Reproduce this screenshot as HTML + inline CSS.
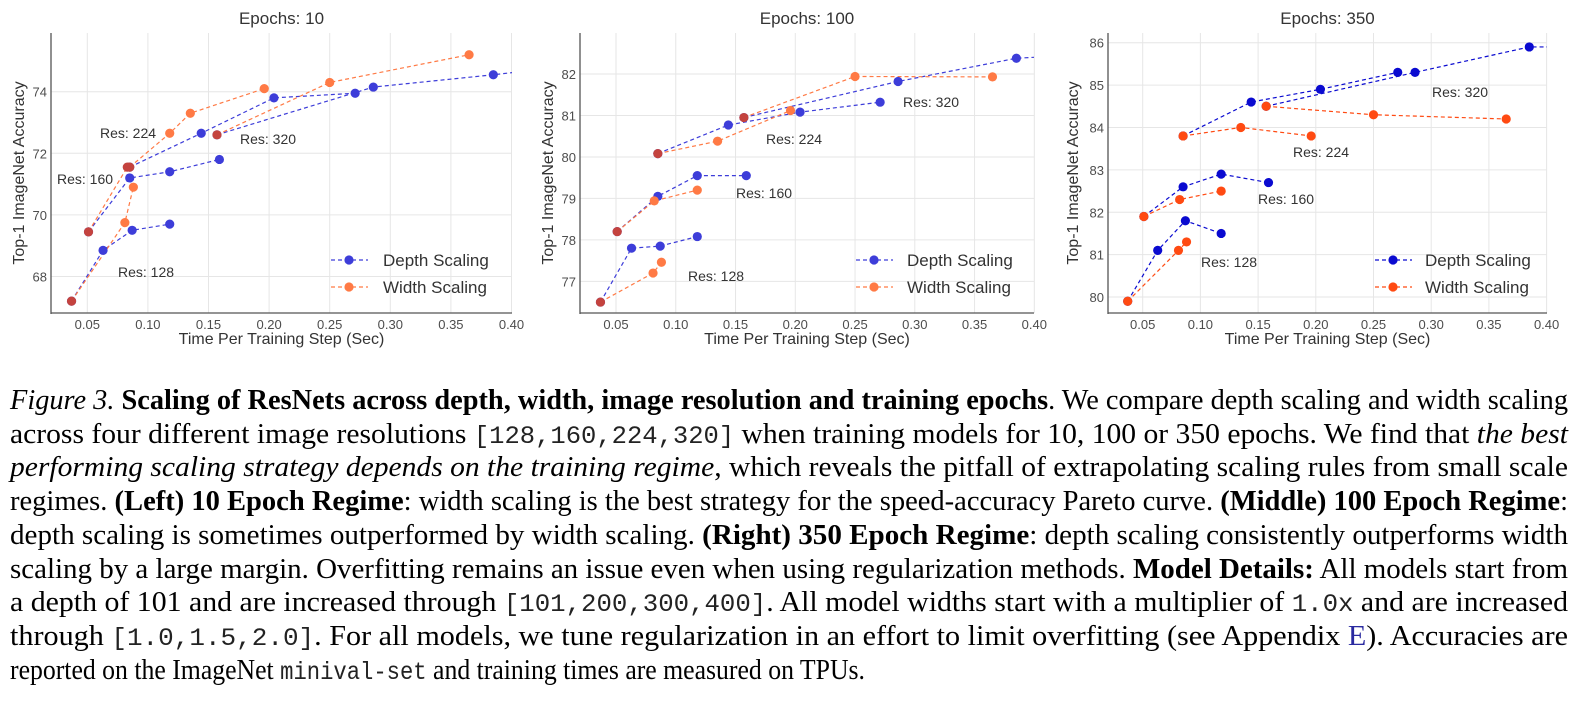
<!DOCTYPE html>
<html><head><meta charset="utf-8">
<style>
html,body{margin:0;padding:0;background:#fff;width:1588px;height:711px;overflow:hidden}
#chart{position:absolute;left:0;top:0}
.cap{position:absolute;left:10px;font-family:"Liberation Serif",serif;font-size:29px;color:#000;white-space:nowrap;transform-origin:0 0;line-height:1}
.cap b{font-weight:bold}
.mono{font-family:"Liberation Mono",monospace;font-size:25px;color:#222}
.blue{color:#2a2aa0}
</style></head><body>
<svg id="chart" width="1588" height="360"></svg>
<div id="caption">
<div class="cap" data-w="1558" style="top:386px"><i>Figure 3.</i> <b>Scaling of ResNets across depth, width, image resolution and training epochs</b>. We compare depth scaling and width scaling</div>
<div class="cap" data-w="1558" style="top:420px">across four different image resolutions <span class="mono">[128,160,224,320]</span> when training models for 10, 100 or 350 epochs. We find that <i>the best</i></div>
<div class="cap" data-w="1558" style="top:453px"><i>performing scaling strategy depends on the training regime</i>, which reveals the pitfall of extrapolating scaling rules from small scale</div>
<div class="cap" data-w="1558" style="top:487px">regimes. <b>(Left) 10 Epoch Regime</b>: width scaling is the best strategy for the speed-accuracy Pareto curve. <b>(Middle) 100 Epoch Regime</b>:</div>
<div class="cap" data-w="1558" style="top:521px">depth scaling is sometimes outperformed by width scaling. <b>(Right) 350 Epoch Regime</b>: depth scaling consistently outperforms width</div>
<div class="cap" data-w="1558" style="top:555px">scaling by a large margin. Overfitting remains an issue even when using regularization methods. <b>Model Details:</b> All models start from</div>
<div class="cap" data-w="1558" style="top:588px">a depth of 101 and are increased through <span class="mono">[101,200,300,400]</span>. All model widths start with a multiplier of <span class="mono">1.0x</span> and are increased</div>
<div class="cap" data-w="1558" style="top:622px">through <span class="mono">[1.0,1.5,2.0]</span>. For all models, we tune regularization in an effort to limit overfitting (see Appendix <span class="blue">E</span>). Accuracies are</div>
<div class="cap" data-w="855" style="top:656px">reported on the ImageNet <span class="mono">minival-set</span> and training times are measured on TPUs.</div>
</div>
<script>
// ---- data ----
const xTicks = [0.05,0.10,0.15,0.20,0.25,0.30,0.35,0.40];
const xTickLabels = ["0.05","0.10","0.15","0.20","0.25","0.30","0.35","0.40"];
const resLabels = ["Res: 128","Res: 160","Res: 224","Res: 320"];
const e10Ticks = [68,70,72,74];
const e100Ticks = [77,78,79,80,81,82];
const e350Ticks = [80,81,82,83,84,85,86];
// Epochs 10
const e10DepthX = [[0.037,0.063,0.087,0.118],[0.051,0.085,0.118,0.159],[0.085,0.144,0.204,0.271],[0.157,0.286,0.385,0.43]];
const e10DepthY = [[67.2,68.85,69.5,69.7],[69.45,71.2,71.4,71.8],[71.55,72.65,73.8,73.95],[72.6,74.15,74.55,74.75]];
const e10WidthX = [[0.037,0.081,0.088],[0.051,0.083],[0.085,0.118,0.135,0.196],[0.157,0.25,0.365]];
const e10WidthY = [[67.2,69.75,70.9],[69.45,71.55],[71.55,72.65,73.3,74.1],[72.6,74.3,75.2]];
// Epochs 100
const e100DepthX = [[0.037,0.063,0.087,0.118],[0.051,0.085,0.118,0.159],[0.085,0.144,0.204,0.271],[0.157,0.286,0.385,0.43]];
const e100DepthY = [[76.5,77.8,77.85,78.08],[78.2,79.05,79.55,79.55],[80.08,80.77,81.08,81.32],[80.95,81.82,82.38,82.45]];
const e100WidthX = [[0.037,0.081,0.088],[0.051,0.082,0.118],[0.085,0.135,0.196],[0.157,0.25,0.365]];
const e100WidthY = [[76.5,77.2,77.46],[78.2,78.94,79.2],[80.08,80.38,81.12],[80.95,81.94,81.93]];
// Epochs 350
const e350DepthX = [[0.037,0.063,0.087,0.118],[0.051,0.085,0.118,0.159],[0.085,0.144,0.204,0.271],[0.157,0.286,0.385,0.43]];
const e350DepthY = [[79.9,81.1,81.8,81.5],[81.9,82.6,82.9,82.7],[83.8,84.6,84.9,85.3],[84.5,85.3,85.9,85.9]];
const e350WidthX = [[0.037,0.081,0.088],[0.051,0.082,0.118],[0.085,0.135,0.196],[0.157,0.25,0.365]];
const e350WidthY = [[79.9,81.1,81.3],[81.9,82.3,82.5],[83.8,84.0,83.8],[84.5,84.3,84.2]];
</script>
<script>
const NS="http://www.w3.org/2000/svg";
const svg=document.getElementById('chart');
function mk(tag,attrs,parent){const e=document.createElementNS(NS,tag);for(const k in attrs)e.setAttribute(k,attrs[k]);(parent||svg).appendChild(e);return e;}
const panels=[
 {title:"Epochs: 10",L:51,R:512,T:33,B:313,x0:0.05,px0:87.3,px05:60.6,yv:74,py:91.7,ppu:30.8,ticks:e10Ticks,dx:e10DepthX,dy:e10DepthY,wx:e10WidthX,wy:e10WidthY,blue:"#3d3dd9",orange:"#ff7a45",blend:true,
  lab:[[118,272],[57,179],[100,133],[240,139]],leg:[331,383],ylab:20},
 {title:"Epochs: 100",L:580,R:1034,T:33,B:313,x0:0.05,px0:616,px05:59.76,yv:82,py:74,ppu:41.47,ticks:e100Ticks,dx:e100DepthX,dy:e100DepthY,wx:e100WidthX,wy:e100WidthY,blue:"#3d3dd9",orange:"#ff7a45",blend:true,
  lab:[[688,276],[736,193],[766,139],[903,102]],leg:[856,907],ylab:549},
 {title:"Epochs: 350",L:1108,R:1547,T:33,B:313,x0:0.05,px0:1142.7,px05:57.7,yv:86,py:42.7,ppu:42.39,ticks:e350Ticks,dx:e350DepthX,dy:e350DepthY,wx:e350WidthX,wy:e350WidthY,blue:"#0a0ad0",orange:"#ff4a12",blend:false,
  lab:[[1201,262],[1258,199],[1293,152],[1432,92]],leg:[1375,1425],ylab:1074}
];
const font='"Liberation Sans", sans-serif';
panels.forEach((p,pi)=>{
 const X=v=>p.px0+(v-p.x0)/0.05*p.px05;
 const Y=v=>p.py-(v-p.yv)*p.ppu;
 const g=mk('g',{});
 
 
 const cid='clip'+pi;
 const cp=mk('clipPath',{id:cid},g);mk('rect',{x:p.L,y:p.T,width:p.R-p.L,height:p.B-p.T},cp);
 xTicks.forEach((t,i)=>{
  mk('line',{x1:X(t),x2:X(t),y1:p.T,y2:p.B,stroke:"#e6e6e6","stroke-width":1},g);
  const tl=mk('text',{x:X(t),y:p.B+16,"text-anchor":"middle","font-family":font,"font-size":13,fill:"#4d4d4d"},g);
  tl.textContent=xTickLabels[i];
  
  
 });
 p.ticks.forEach(t=>{
  mk('line',{x1:p.L,x2:p.R,y1:Y(t),y2:Y(t),stroke:"#e6e6e6","stroke-width":1},g);
  const tl=mk('text',{x:p.L-4,y:Y(t)+5,"text-anchor":"end","font-family":font,"font-size":13,fill:"#4d4d4d"},g);
  tl.textContent=String(t);
  
  
 });
 mk('line',{x1:p.L,x2:p.L,y1:p.T,y2:p.B+1,stroke:"#555","stroke-width":1.3},g);
 mk('line',{x1:p.L,x2:p.R,y1:p.B,y2:p.B,stroke:"#555","stroke-width":1.3},g);
 const tt=mk('text',{x:(p.L+p.R)/2,y:24,"text-anchor":"middle","font-family":font,"font-size":17,fill:"#333"},g);
 tt.textContent=p.title;
 
 
 const xl=mk('text',{x:(p.L+p.R)/2,y:344,"text-anchor":"middle","font-family":font,"font-size":16,fill:"#333"},g);
 xl.textContent="Time Per Training Step (Sec)";
 
 
 const yl=mk('text',{x:0,y:0,"text-anchor":"middle","font-family":font,"font-size":16,fill:"#333",transform:`translate(${p.ylab+4},${(p.T+p.B)/2}) rotate(-90)`},g);
 yl.textContent="Top-1 ImageNet Accuracy";
 
 
 const dg=mk('g',{"clip-path":`url(#${cid})`},g);
 function series(xs,ys,col,name){
  xs.forEach((xa,i)=>{
   const pts=xa.map((x,j)=>X(x)+","+Y(ys[i][j])).join(" ");
   const pl=mk('polyline',{points:pts,fill:"none",stroke:col,"stroke-width":1.2,"stroke-dasharray":"4,3"},dg);
   
   
  });
 }
 series(p.dx,p.dy,p.blue,'depth');
 series(p.wx,p.wy,p.orange,'width');
 function dots(xs,ys,col,name,check){
  xs.forEach((xa,i)=>xa.forEach((x,j)=>{
   let c=col;
   if(check&&p.blend){for(let a=0;a<p.dx.length;a++)for(let b=0;b<p.dx[a].length;b++){if(Math.abs(p.dx[a][b]-x)<0.003&&Math.abs(p.dy[a][b]-ys[i][j])<0.03)c="#c4433e";}}
   const ci=mk('circle',{cx:X(x),cy:Y(ys[i][j]),r:4.6,fill:c},dg);
   
   
  }));
 }
 dots(p.dx,p.dy,p.blue,'depth',false);
 dots(p.wx,p.wy,p.orange,'width',true);
 p.lab.forEach((l,i)=>{
  const t=mk('text',{x:l[0],y:l[1]+5,"font-family":font,"font-size":14,fill:"#333"},g);
  t.textContent=resLabels[i];
  
  
 });
 [["Depth Scaling",p.blue,260],["Width Scaling",p.orange,287]].forEach(e=>{
  const lg=mk('g',{},g);
  
  
  mk('line',{x1:p.leg[0],x2:p.leg[0]+37,y1:e[2],y2:e[2],stroke:e[1],"stroke-width":1.2,"stroke-dasharray":"4,3"},lg);
  mk('circle',{cx:p.leg[0]+18,cy:e[2],r:4.6,fill:e[1]},lg);
  const t=mk('text',{x:p.leg[1],y:e[2]+6,"font-family":font,"font-size":17,fill:"#333"},lg);
  t.textContent=e[0];
 });
});
document.querySelectorAll('.cap').forEach(d=>{
 const w=d.getBoundingClientRect().width;
 const tw=+d.dataset.w;
 d.style.transform=`scaleX(${tw/w})`;
});
</script>
</body></html>
